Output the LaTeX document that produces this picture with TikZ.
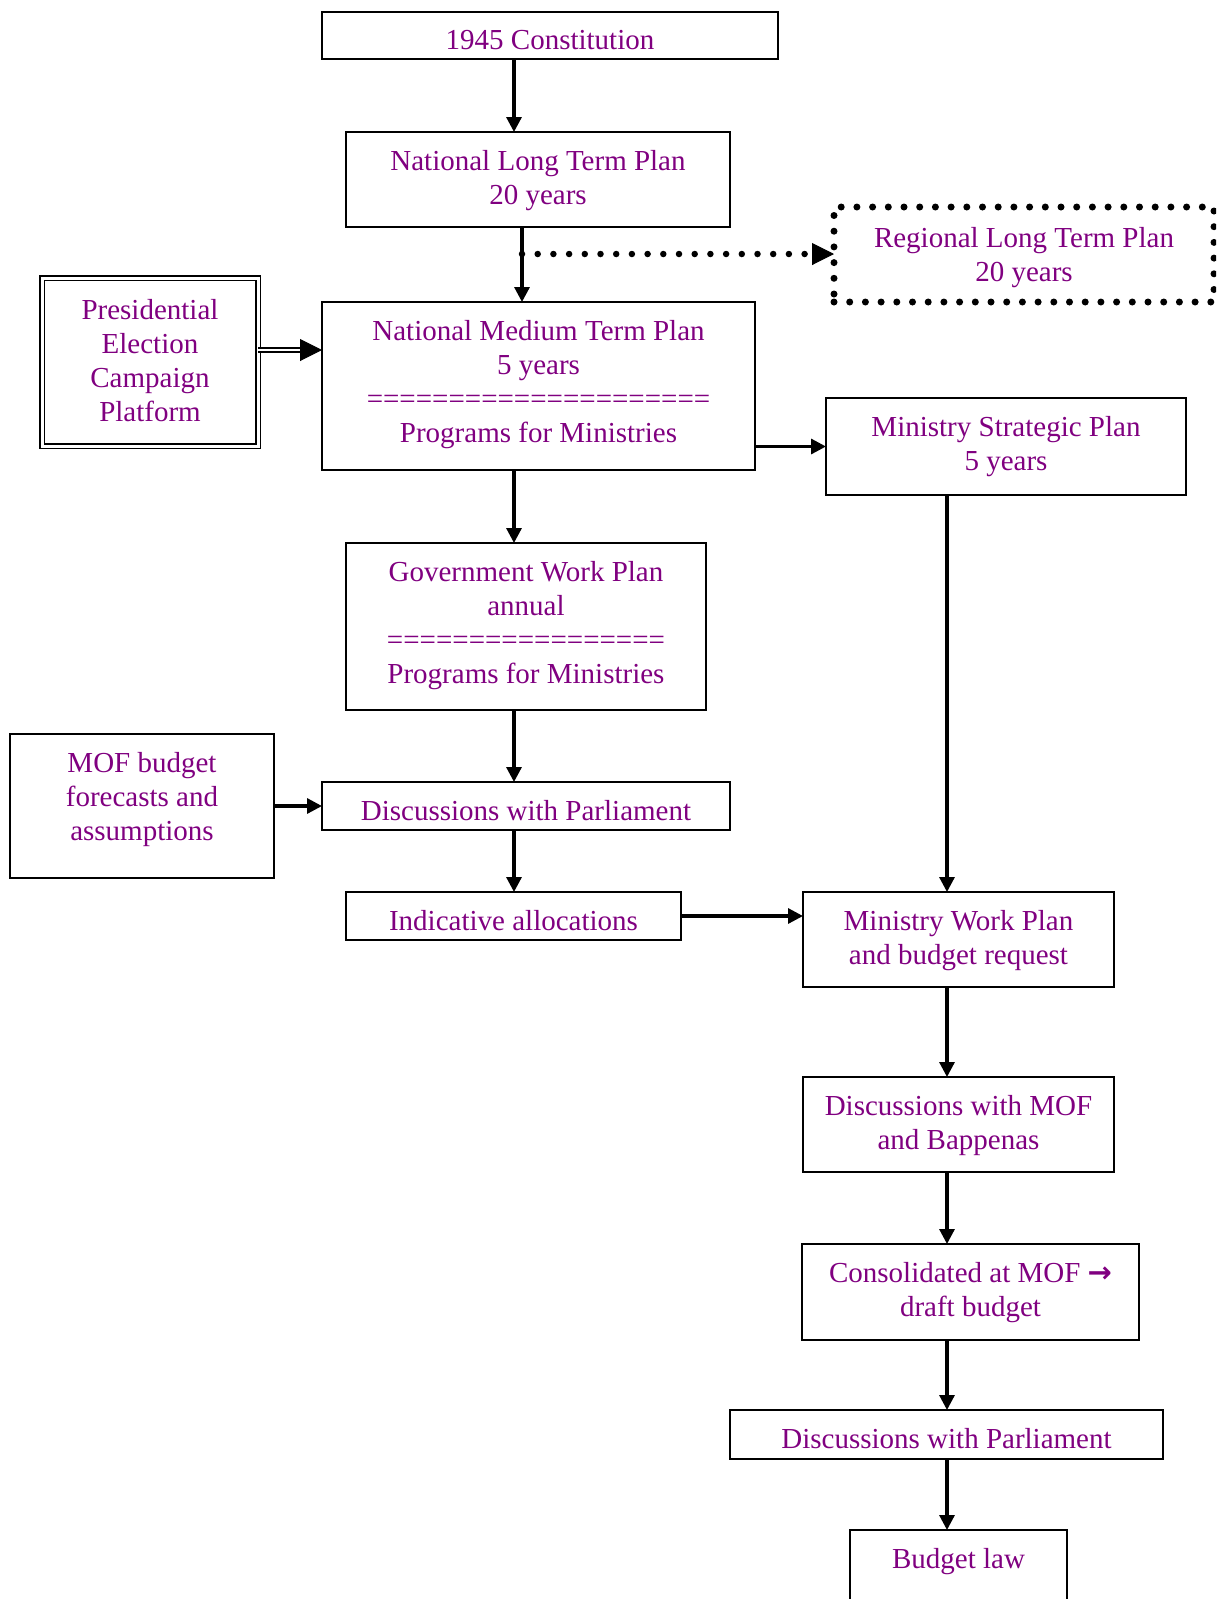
\documentclass[tikz,border=0pt]{standalone}
\usepackage{fontspec}
\setmainfont{Liberation Serif}
\newfontfamily\arrowglyph{DejaVu Sans}
\usetikzlibrary{arrows.meta,calc}
\definecolor{planpurple}{RGB}{128,0,128}
\begin{document}
\begin{tikzpicture}[x=1pt,y=-1pt,
  box/.style={draw, line width=1.8pt, inner sep=0pt, outer sep=0pt},
  span/.style n args={4}{at={(#1,#2)}, anchor=north west,
    minimum width={(#3-#1)*1pt}, minimum height={(#4-#2)*1pt}},
  dblbox/.style={box, double, double distance=3pt},
  dotbox/.style={draw, line width=7pt, line cap=round, dash pattern=on 0pt off 15.7pt,
    inner sep=0pt, outer sep=0pt},
  dotline/.style={line width=6.5pt, line cap=round, dash pattern=on 0pt off 15.7pt},
  txt/.style={text=planpurple, font=\fontsize{29}{34}\selectfont, align=center,
    anchor=north, inner sep=0pt},
  arr/.style={line width=3.2pt, -{Triangle[length=15pt,width=15pt]}},
  bigtip/.style={line width=1pt, -{Triangle[length=22pt,width=22pt]}},
]
\useasboundingbox (0,0) rectangle (1216,1599);
\clip (0,0) rectangle (1216,1599);

% boxes
\node[box, span={322}{12}{778}{59}]     (const) {};
\node[box, span={346}{132}{730}{227}]   (nltp)  {};
\node[dotbox, span={834}{207}{1214}{302}] (rltp) {};
\node[dblbox, span={42}{278}{258}{446}] (pres)  {};
\node[box, span={322}{302}{755}{470}]   (nmtp)  {};
\node[box, span={826}{398}{1186}{495}]  (msp)   {};
\node[box, span={346}{543}{706}{710}]   (gwp)   {};
\node[box, span={10}{734}{274}{878}]    (mof)   {};
\node[box, span={322}{782}{730}{830}]   (parl)  {};
\node[box, span={346}{892}{681}{940}]   (indic) {};
\node[box, span={803}{892}{1114}{987}]  (mwp)   {};
\node[box, span={803}{1077}{1114}{1172}] (dmof) {};
\node[box, span={802}{1244}{1139}{1340}] (cons) {};
\node[box, span={730}{1410}{1163}{1459}] (parlB) {};
\node[box, span={850}{1530}{1067}{1620}] (law)  {};

% labels hang from the box tops
\node[txt] (constT) at ([yshift=-18.5pt]const.north) {1945 Constitution};
\node[txt] (nltpT)  at ([yshift=-18.5pt]nltp.north)  {National Long Term Plan\\20 years};
\node[txt] (rltpT)  at ([yshift=-20pt]rltp.north)    {Regional Long Term Plan\\20 years};
\node[txt] (presT)  at ([yshift=-21.5pt]pres.north)  {Presidential\\Election\\Campaign\\Platform};
\node[txt] (nmtpT)  at ([yshift=-18.5pt]nmtp.north)  {National Medium Term Plan\\5 years\\=====================\\Programs for Ministries};
\node[txt] (mspT)   at ([yshift=-18.5pt]msp.north)   {Ministry Strategic Plan\\5 years};
\node[txt] (gwpT)   at ([yshift=-18.5pt]gwp.north)   {Government Work Plan\\annual\\=================\\Programs for Ministries};
\node[txt] (mofT)   at ([yshift=-18.5pt]mof.north)   {MOF budget\\forecasts and\\assumptions};
\node[txt] (parlT)  at ([yshift=-18.5pt]parl.north)  {Discussions with Parliament};
\node[txt] (indicT) at ([yshift=-18.5pt]indic.north) {Indicative allocations};
\node[txt] (mwpT)   at ([yshift=-18.5pt]mwp.north)   {Ministry Work Plan\\and budget request};
\node[txt] (dmofT)  at ([yshift=-18.5pt]dmof.north)  {Discussions with MOF\\and Bappenas};
\node[txt] (consT)  at ([yshift=-18.5pt]cons.north)  {Consolidated at MOF {\arrowglyph\bfseries →}\\draft budget};
\node[txt] (parlBT) at ([yshift=-18.5pt]parlB.north) {Discussions with Parliament};
\node[txt] (lawT)   at ([yshift=-18.5pt]law.north)   {Budget law};

% connector columns
\coordinate (colA)  at (514,0);
\coordinate (colA2) at (522,0);
\coordinate (colB)  at (947,0);
\coordinate (dotY)  at (0,254);
\coordinate (presY) at (0,350);

% central column
\draw[arr] (const.south -| colA) -- (nltp.north -| colA);
\draw[arr] (nltp.south -| colA2) -- (nmtp.north -| colA2);
\draw[arr] (nmtp.south -| colA) -- (gwp.north -| colA);
\draw[arr] (gwp.south -| colA) -- (parl.north -| colA);
\draw[arr] (parl.south -| colA) -- (indic.north -| colA);

% dotted branch to the regional plan
\draw[dotline] (colA2 |- dotY) -- ([xshift=-23pt]rltp.west |- dotY);
\draw[bigtip] ([xshift=-22pt]rltp.west |- dotY) -- (rltp.west |- dotY);

% campaign platform feeds the medium term plan
\draw[line width=2.2pt, double distance=2.3pt] (pres.east |- presY) -- ([xshift=-21pt]nmtp.west |- presY);
\draw[bigtip] ([xshift=-22pt]nmtp.west |- presY) -- (nmtp.west |- presY);

% side inputs
\draw[arr] (nmtp.east |- msp.west) -- (msp.west);
\draw[arr] (mof.east |- parl.west) -- (parl.west);
\draw[arr] (indic.east) -- (indic.east -| mwp.west);

% ministry column
\draw[arr] (msp.south -| colB) -- (mwp.north -| colB);
\draw[arr] (mwp.south -| colB) -- (dmof.north -| colB);
\draw[arr] (dmof.south -| colB) -- (cons.north -| colB);
\draw[arr] (cons.south -| colB) -- (parlB.north -| colB);
\draw[arr] (parlB.south -| colB) -- (law.north -| colB);
\end{tikzpicture}
\end{document}
